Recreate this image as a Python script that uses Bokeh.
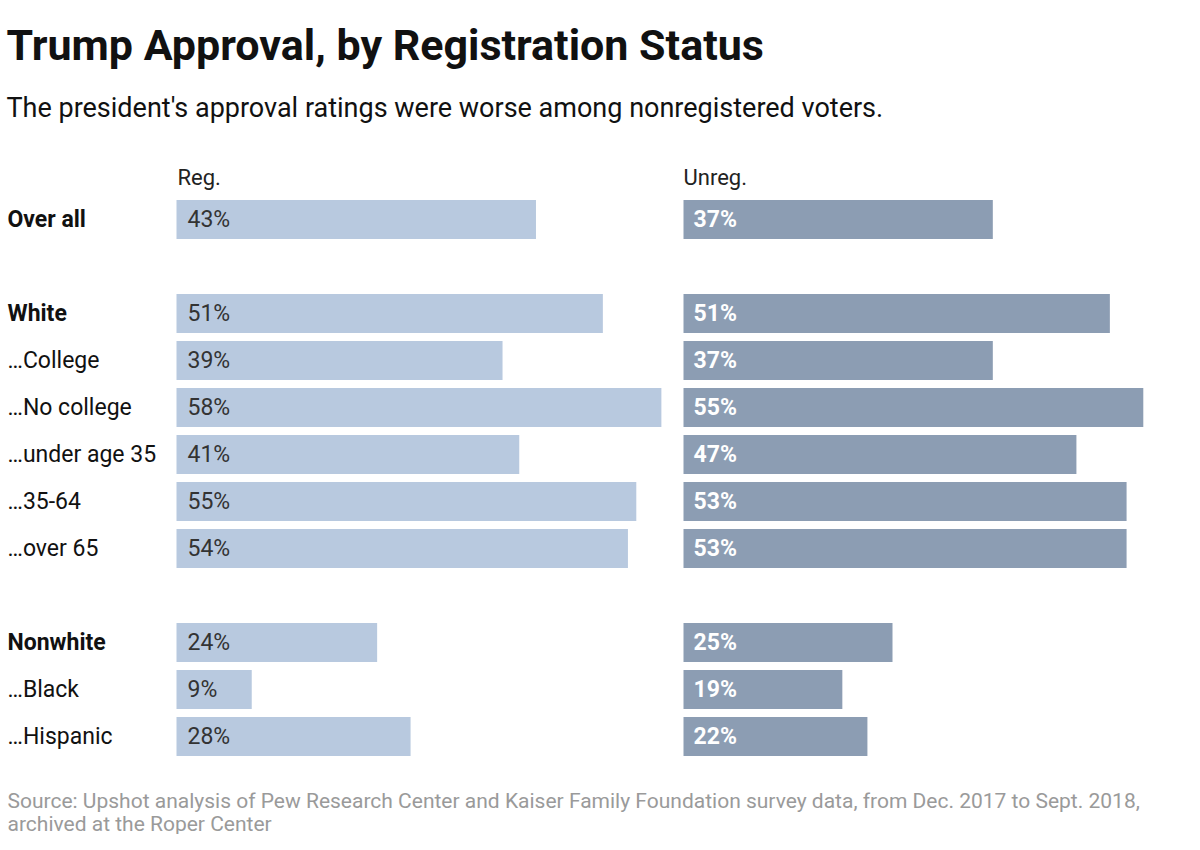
from bokeh.plotting import figure
from bokeh.models import Range1d, ColumnDataSource
from bokeh.core.properties import value
from bokeh.embed import file_html
from bokeh.resources import INLINE

# ---- data ----
categories = ["Over all", "", "White", "…College", "…No college", "…under age 35",
              "…35-64", "…over 65", "", "Nonwhite", "…Black", "…Hispanic"]
bold_rows = ["Over all", "White", "Nonwhite"]
reg_values = [43, None, 51, 39, 58, 41, 55, 54, None, 24, 9, 28]
unreg_values = [37, None, 51, 37, 55, 47, 53, 53, None, 25, 19, 22]
col_headers = ["Reg.", "Unreg."]
title_text = "Trump Approval, by Registration Status"
subtitle_text = "The president's approval ratings were worse among nonregistered voters."
source_lines = ["Source: Upshot analysis of Pew Research Center and Kaiser Family Foundation survey data, from Dec. 2017 to Sept. 2018,",
                "archived at the Roper Center"]

# ---- layout (pixels -> data units) ----
W, H = 1184, 834
PX_PER_UNIT = 8.36
ROW_PX = 47
REG_START_PX = 176
UNREG_START_PX = 683
ROW0_PX = 219

def px_x(px):
    return (px - REG_START_PX) / PX_PER_UNIT

def px_y(py):
    return (py - ROW0_PX) / ROW_PX

UNREG_OFFSET = px_x(UNREG_START_PX)

p = figure(width=W, height=H, output_backend="svg", toolbar_location=None,
           x_range=Range1d(px_x(0), px_x(W)), y_range=Range1d(px_y(H), px_y(0)),
           min_border=0)
p.axis.visible = False
p.grid.visible = False
p.outline_line_color = None
p.background_fill_color = "white"
p.border_fill_color = "white"

FONT = "Roboto"
REG_COLOR = "#b8c9df"
UNREG_COLOR = "#8c9db3"

rows = [i for i, v in enumerate(reg_values) if v is not None]
reg = ColumnDataSource(dict(
    y=rows,
    right=[reg_values[i] for i in rows],
    lab=[f"{reg_values[i]}%" for i in rows],
))
unreg = ColumnDataSource(dict(
    y=rows,
    left=[UNREG_OFFSET] * len(rows),
    right=[UNREG_OFFSET + unreg_values[i] for i in rows],
    lab=[f"{unreg_values[i]}%" for i in rows],
    lx=[UNREG_OFFSET + 10 / PX_PER_UNIT] * len(rows),
))

p.hbar(y="y", left=0, right="right", height=39 / ROW_PX, source=reg,
       fill_color=REG_COLOR, line_color=None)
p.hbar(y="y", left="left", right="right", height=39 / ROW_PX, source=unreg,
       fill_color=UNREG_COLOR, line_color=None)

p.text(x=11 / PX_PER_UNIT, y="y", text="lab", source=reg, text_font=value(FONT),
       text_font_size="23px", text_color="#333333", text_baseline="middle")
p.text(x="lx", y="y", text="lab", source=unreg, text_font=value(FONT),
       text_font_size="23px", text_color="white", text_font_style="bold",
       text_baseline="middle")

# row labels
lab_rows = [i for i, c in enumerate(categories) if c]
row_src = ColumnDataSource(dict(
    x=[px_x(7)] * len(lab_rows),
    y=lab_rows,
    t=[categories[i] for i in lab_rows],
    st=["bold" if categories[i] in bold_rows else "normal" for i in lab_rows],
))
p.text(x="x", y="y", text="t", source=row_src, text_font=value(FONT),
       text_font_size="23px", text_color="#111111", text_font_style="st",
       text_baseline="middle")

# column headers
p.text(x=[px_x(177), px_x(683)], y=[px_y(177)] * 2, text=col_headers,
       text_font=value(FONT), text_font_size="22px", text_color="#222222",
       text_baseline="middle")

# title, subtitle, source
p.text(x=[px_x(6)], y=[px_y(44)], text=[title_text], text_font=value(FONT),
       text_font_size="43px", text_font_style="bold", text_color="#111111",
       text_baseline="middle")
p.text(x=[px_x(6)], y=[px_y(107)], text=[subtitle_text], text_font=value(FONT),
       text_font_size="27px", text_color="#111111", text_baseline="middle")
p.text(x=[px_x(7)] * 2, y=[px_y(800), px_y(823)], text=source_lines,
       text_font=value(FONT), text_font_size="21px", text_color="#9a9a9a",
       text_baseline="middle")

open("out.html", "w").write(file_html(p, INLINE))
